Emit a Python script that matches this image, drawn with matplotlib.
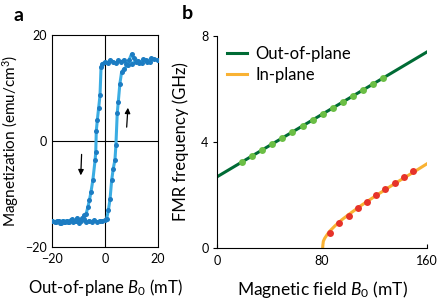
import matplotlib
matplotlib.use("Agg")
import matplotlib.pyplot as plt

plt.rcParams["font.family"] = ["Lato", "DejaVu Sans"]
plt.rcParams["mathtext.fontset"] = "custom"
plt.rcParams["mathtext.it"] = "Lato:italic"
plt.rcParams["mathtext.rm"] = "Lato"

# panel a: hysteresis loop
down_B = [20, 18.5, 17, 15.5, 14, 12.5, 11, 10, 9, 8, 7, 6, 5, 4, 3, 2, 1, 0, -1, -1.5,
          -1.9, -2.4, -2.9, -3.3, -3.5, -3.75, -4.6, -5.3, -5.9, -6.5, -7.1, -7.8, -8.6,
          -9.5, -10.5, -11.5, -12.5, -13.5, -14.5, -15.5, -16.5, -17.5, -18.5, -20]
down_M = [15.2, 15.5, 15.0, 15.3, 14.8, 15.1, 15.6, 16.4, 15.2, 14.6, 15.3, 14.9, 15.2,
          14.7, 15.0, 15.3, 14.8, 14.9, 14.6, 14.0, 8.6, 6.3, 4.0, 1.9, -2.1, -3.6, -7.4,
          -9.6, -11.2, -12.5, -13.7, -14.0, -14.6, -14.9, -14.5, -15.1, -14.8, -15.3,
          -15.0, -15.2, -15.4, -15.0, -15.3, -15.1]
up_B = [-20, -19, -18, -17, -16, -15, -14, -13, -12, -11, -10, -9, -8, -7, -6, -5, -4,
        -3, -2, -1, 0, 0.6, 1.25, 1.9, 2.5, 3.1, 3.75, 4.1, 4.6, 5.0, 5.6, 6.25, 7.1,
        8.75, 10, 11.5, 13, 14.5, 16, 17.5, 20]
up_M = [-15.0, -15.2, -15.1, -15.4, -15.0, -15.3, -15.2, -14.9, -15.3, -15.0, -15.4,
        -15.1, -14.8, -15.3, -15.0, -15.2, -14.9, -15.3, -15.0, -15.1, -14.9, -14.7,
        -13.1, -10.9, -7.4, -5.2, -3.5, -0.8, 5.2, 7.4, 10.8, 13.0, 13.6, 14.3, 14.6,
        15.0, 14.7, 15.4, 15.0, 15.6, 15.2]

# panel b: FMR frequency vs field
oop_line_B = [0, 160]
oop_line_f = [2.68, 7.40]
oop_B = [18.8, 26.6, 34.1, 41.9, 49.6, 57.4, 65.2, 72.9, 80.5, 88.2, 95.7, 103.5,
         111.0, 118.8, 126.3]
oop_f = [3.24, 3.47, 3.69, 3.92, 4.14, 4.37, 4.60, 4.83, 5.05, 5.28, 5.50, 5.73,
         5.95, 6.18, 6.40]
ip_line_B = [80.5, 80.7, 81, 82, 84, 86, 90, 95, 100, 110, 120, 130, 140, 150, 160]
ip_line_f = [0, 0.12, 0.25, 0.36, 0.51, 0.64, 0.84, 1.06, 1.25, 1.61, 1.94, 2.26,
             2.57, 2.87, 3.18]
ip_B = [86.0, 93.2, 100.3, 107.3, 114.3, 121.3, 128.3, 135.3, 142.4, 149.4]
ip_f = [0.58, 0.94, 1.22, 1.49, 1.74, 2.01, 2.23, 2.46, 2.68, 2.90]

fig = plt.figure(figsize=(4.39, 3.02), dpi=100)

ax1 = fig.add_axes([0.1185, 0.182, 0.2415, 0.702])
ax1.axhline(0, color="black", lw=0.8, zorder=1)
ax1.axvline(0, color="black", lw=0.8, zorder=1)
for B, M in [(down_B, down_M), (up_B, up_M)]:
    ax1.plot(B, M, color="#3BADE3", lw=2.2, zorder=2)
    ax1.plot(B, M, "o", color="#1C7CC2", ms=3.6, mec="none", zorder=3)
ax1.annotate("", xy=(-9.2, -7.0), xytext=(-8.8, -2.0),
             arrowprops=dict(arrowstyle="-|>", color="black", lw=0.9, mutation_scale=8))
ax1.annotate("", xy=(8.7, 6.8), xytext=(8.1, 2.1),
             arrowprops=dict(arrowstyle="-|>", color="black", lw=0.9, mutation_scale=8))
ax1.set_xlim(-20, 20)
ax1.set_ylim(-20, 20)
ax1.set_xticks([-20, 0, 20])
ax1.set_yticks([-20, 0, 20])
ax1.tick_params(length=0, labelsize=9, pad=4)
for s in ax1.spines.values():
    s.set_linewidth(0.8)
ax1.set_xlabel("Out-of-plane $B_0$ (mT)", fontsize=12, labelpad=9)
ax1.set_ylabel("Magnetization (emu/cm$^3$)", fontsize=11, labelpad=3)

ax2 = fig.add_axes([0.494, 0.179, 0.479, 0.702])
ax2.plot(oop_line_B, oop_line_f, color="#006B35", lw=2.2, label="Out-of-plane", zorder=2)
ax2.plot(ip_line_B, ip_line_f, color="#F9B233", lw=2.2, label="In-plane", zorder=2)
ax2.plot(oop_B, oop_f, "o", color="#6BBE45", ms=5, mec="none", zorder=3)
ax2.plot(ip_B, ip_f, "o", color="#E6332A", ms=5, mec="none", zorder=3)
ax2.set_xlim(0, 160)
ax2.set_ylim(0, 8)
ax2.set_xticks([0, 80, 160])
ax2.set_yticks([0, 4, 8])
ax2.tick_params(axis="y", direction="out", length=3, width=0.8, labelsize=9, pad=3)
ax2.tick_params(axis="x", direction="in", length=3, width=0.8, labelsize=9, pad=5)
ax2.spines["top"].set_visible(False)
ax2.spines["right"].set_visible(False)
ax2.spines["left"].set_linewidth(0.8)
ax2.spines["bottom"].set_linewidth(0.8)
ax2.set_xlabel("Magnetic field $B_0$ (mT)", fontsize=12.5, labelpad=9)
ax2.set_ylabel("FMR frequency (GHz)", fontsize=12, labelpad=9)
ax2.legend(loc="upper left", frameon=False, fontsize=12, handlelength=1.2,
           handletextpad=0.5, borderaxespad=0.2, labelspacing=0.3)

fig.text(0.03, 0.95, "a", fontsize=14, fontweight="bold", va="center")
fig.text(0.415, 0.955, "b", fontsize=14, fontweight="bold", va="center")

fig.savefig("out.png", dpi=100)
